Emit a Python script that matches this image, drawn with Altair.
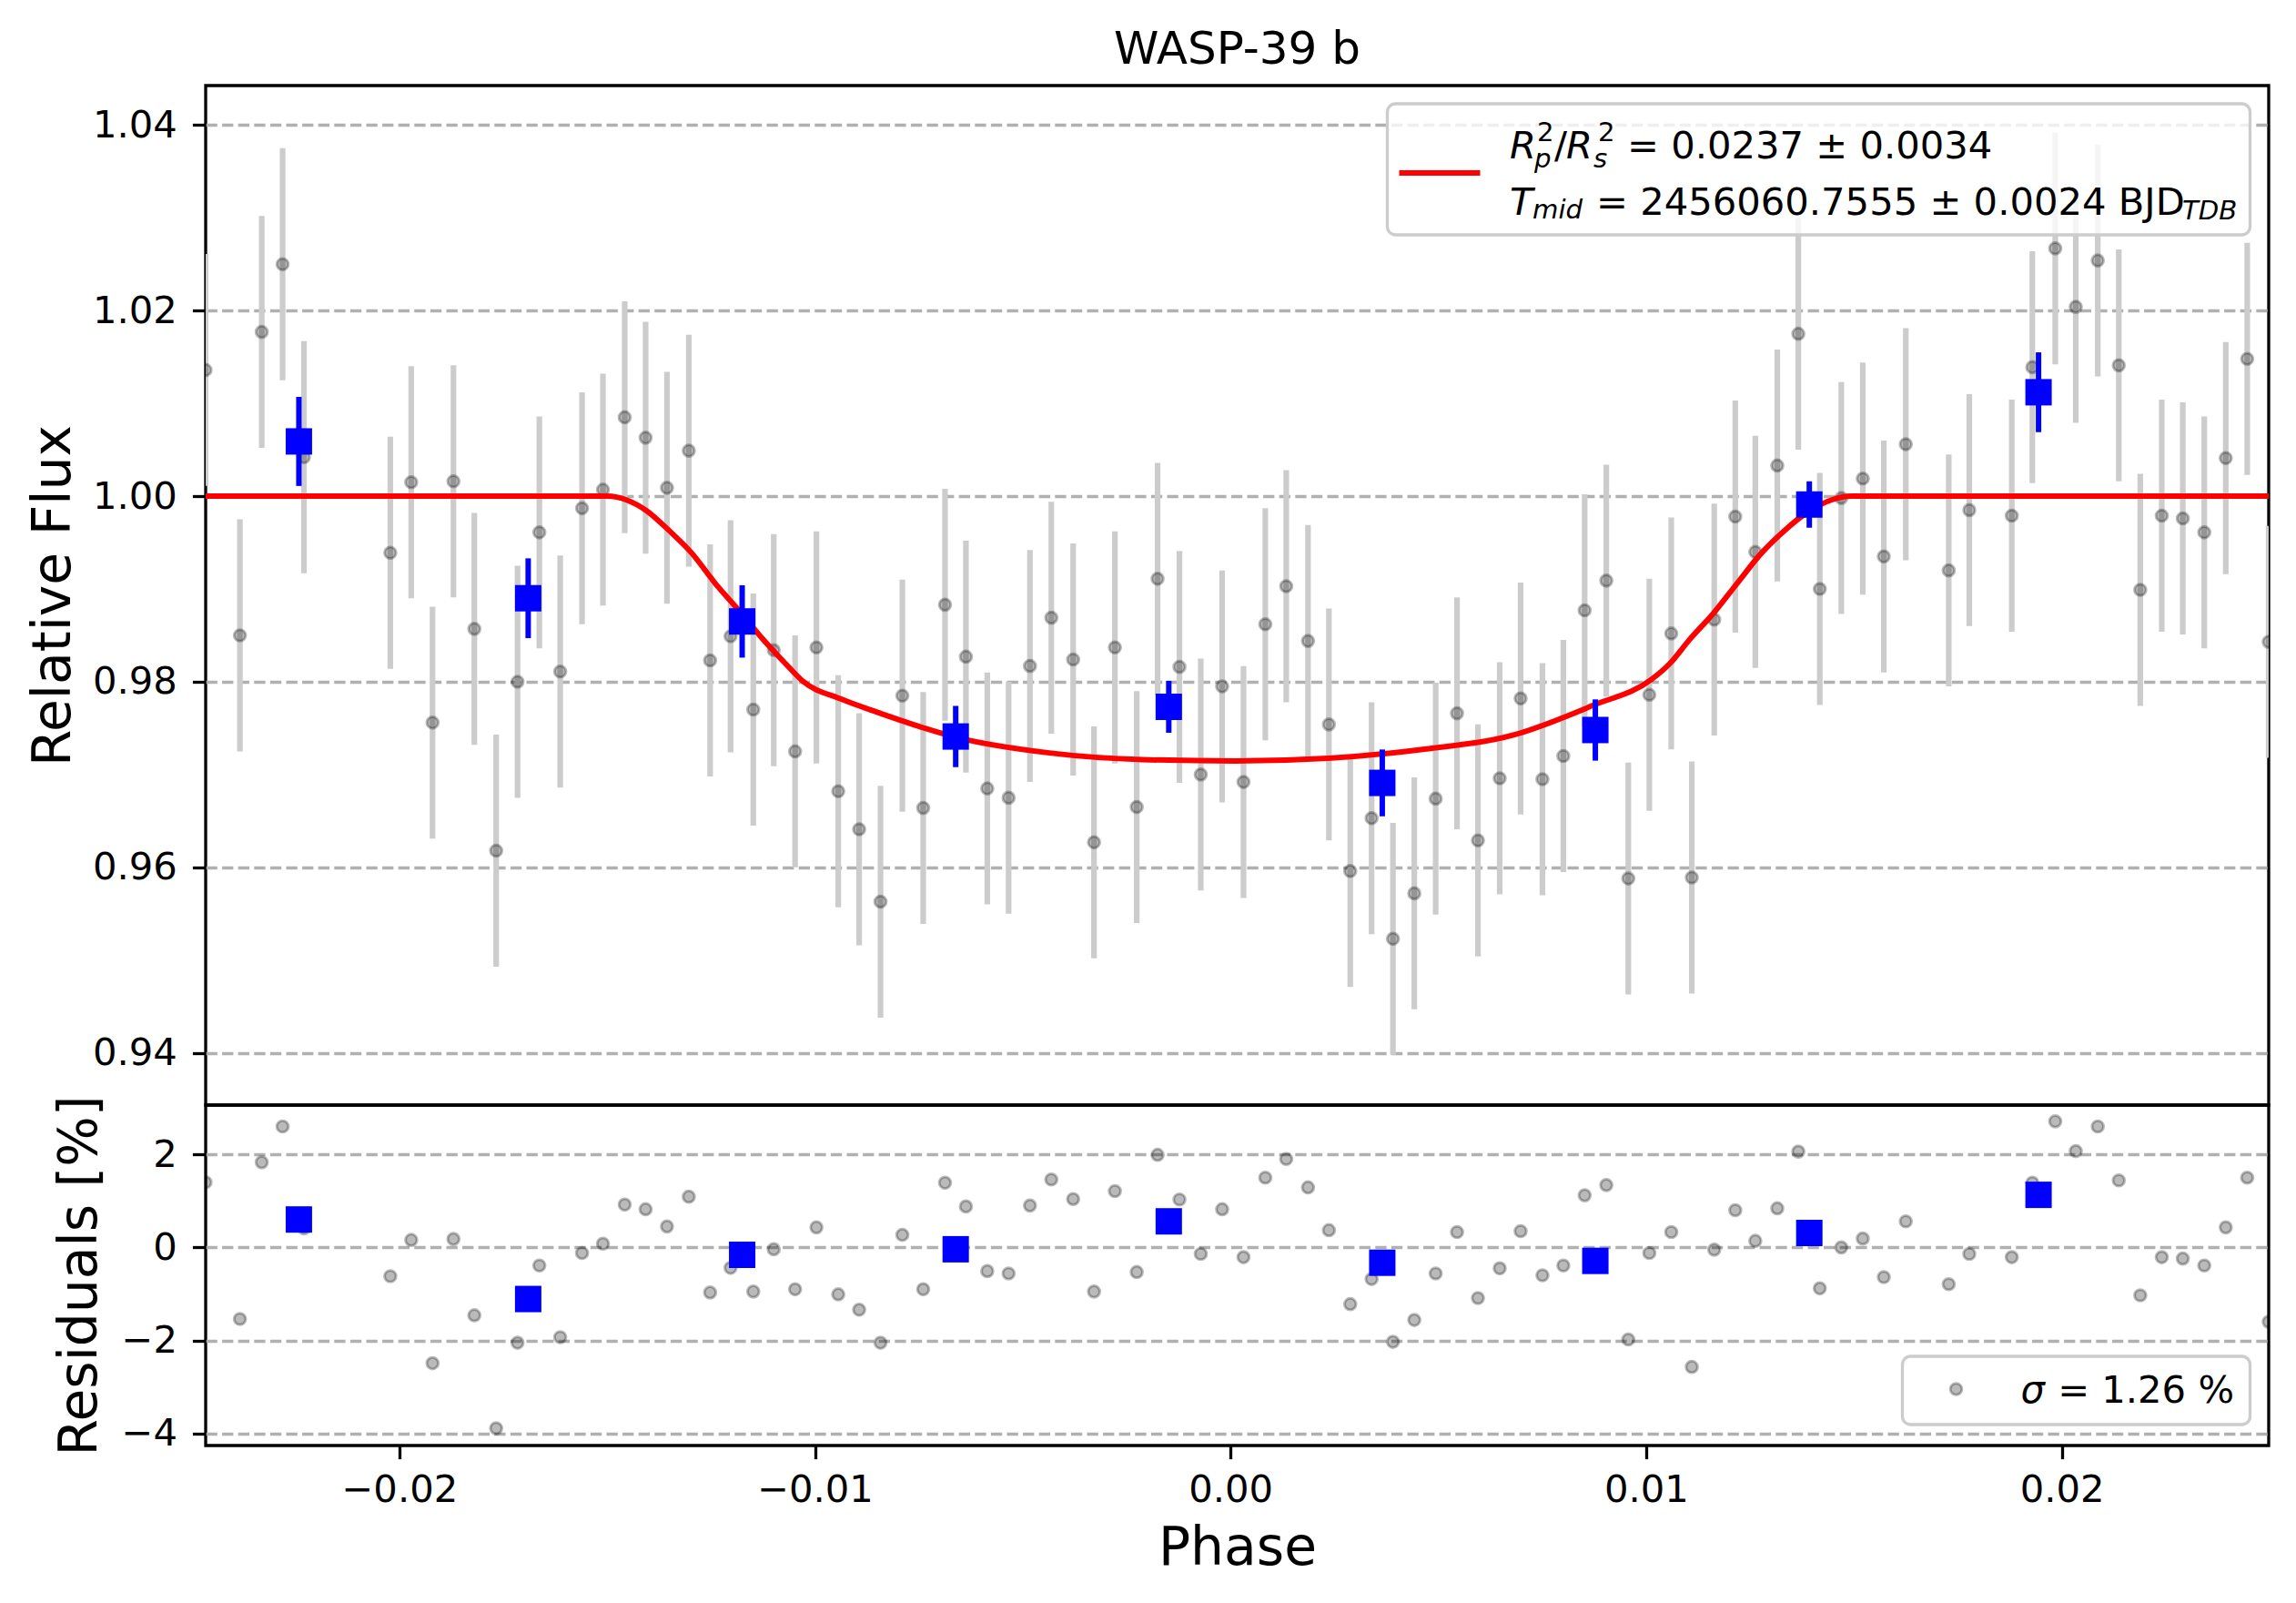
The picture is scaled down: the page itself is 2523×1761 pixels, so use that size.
import altair as alt
import pandas as pd

# ---------------- data ----------------
phase = [
    -0.024663, -0.023836, -0.023311, -0.022809, -0.022295, -0.020217, -0.019714, -0.019201, -0.018698, -0.018195,
    -0.017670, -0.017156, -0.016631, -0.016129, -0.015604, -0.015101, -0.014577, -0.014074, -0.013560, -0.013035,
    -0.012522, -0.012030, -0.011483, -0.010991, -0.010477, -0.009964, -0.009439, -0.008936, -0.008422, -0.007897,
    -0.007395, -0.006870, -0.006367, -0.005853, -0.005340, -0.004826, -0.004312, -0.003787, -0.003285, -0.002782,
    -0.002257, -0.001755, -0.001229, -0.000716, -0.000202, 0.000312, 0.000837, 0.001340, 0.001864, 0.002367,
    0.002881, 0.003394, 0.003908, 0.004422, 0.004936, 0.005450, 0.005953, 0.006477, 0.006980, 0.007505,
    0.008008, 0.008521, 0.009042, 0.009571, 0.010077, 0.010605, 0.011099, 0.011639, 0.012145, 0.012627,
    0.013156, 0.013662, 0.014179, 0.014696, 0.015213, 0.015719, 0.016248, 0.017281, 0.017776, 0.018798,
    0.019293, 0.019844, 0.020338, 0.020867, 0.021373, 0.021890, 0.022407, 0.022913, 0.023430, 0.023947,
    0.024463, 0.024980,
]
flux = [
    1.0136, 0.9850, 1.0177, 1.0250, 1.0042, 0.9939, 1.0015, 0.9756, 1.0016, 0.9857,
    0.9618, 0.9800, 0.9961, 0.9811, 0.9987, 1.0007, 1.0085, 1.0063, 1.0009, 1.0049,
    0.9823, 0.9849, 0.9770, 0.9834, 0.9725, 0.9837, 0.9682, 0.9641, 0.9563, 0.9785,
    0.9664, 0.9883, 0.9827, 0.9685, 0.9675, 0.9817, 0.9869, 0.9824, 0.9627, 0.9837,
    0.9665, 0.9911, 0.9816, 0.9700, 0.9795, 0.9692, 0.9862, 0.9903, 0.9844, 0.9754,
    0.9596, 0.9653, 0.9523, 0.9572, 0.9674, 0.9766, 0.9629, 0.9696, 0.9782, 0.9695,
    0.9720, 0.9877, 0.9909, 0.9588, 0.9786, 0.9852, 0.9589, 0.9867, 0.9978, 0.9940,
    1.0033, 1.0175, 0.9900, 0.9998, 1.0019, 0.9935, 1.0056, 0.9920, 0.9985, 0.9979,
    1.0139, 1.0267, 1.0204, 1.0254, 1.0141, 0.9899, 0.9979, 0.9976, 0.9961, 1.0041,
    1.0148, 0.9843,
]
flux_err = 0.0125  # every unbinned point has the same error bar
residual = [
    1.40, -1.54, 1.83, 2.60, 0.41, -0.62, 0.16, -2.49, 0.18, -1.46,
    -3.89, -2.05, -0.39, -1.93, -0.12, 0.08, 0.92, 0.82, 0.45, 1.09,
    -0.97, -0.44, -0.95, -0.04, -0.90, 0.43, -1.01, -1.34, -2.05, 0.27,
    -0.90, 1.39, 0.88, -0.51, -0.56, 0.90, 1.46, 1.04, -0.95, 1.21,
    -0.53, 1.99, 1.03, -0.14, 0.82, -0.21, 1.50, 1.90, 1.29, 0.37,
    -1.22, -0.68, -2.03, -1.56, -0.56, 0.33, -1.09, -0.45, 0.35, -0.60,
    -0.39, 1.12, 1.34, -1.98, -0.12, 0.33, -2.57, -0.05, 0.80, 0.14,
    0.84, 2.06, -0.88, 0.00, 0.19, -0.64, 0.56, -0.79, -0.14, -0.21,
    1.39, 2.71, 2.07, 2.60, 1.44, -1.03, -0.21, -0.24, -0.39, 0.43,
    1.50, -1.60,
]

bin_phase = [-0.022417, -0.016900, -0.011751, -0.006613, -0.001486, 0.003651, 0.008778, 0.013926, 0.019442]
bin_flux = [1.0059, 0.9890, 0.9865, 0.9741, 0.9773, 0.9691, 0.9748, 0.9991, 1.0112]
bin_err = [0.0048, 0.0043, 0.0039, 0.0033, 0.0028, 0.0036, 0.0033, 0.0025, 0.0043]
bin_residual = [0.60, -1.11, -0.16, -0.04, 0.56, -0.33, -0.29, 0.31, 1.13]

model_phase = [-0.02466, -0.01500, -0.01452, -0.01407, -0.01352, -0.01296, -0.01240, -0.01184, -0.01128,
               -0.01072, -0.01030, -0.00935, -0.00849, -0.00659, -0.00436, -0.00212, 0.00011, 0.00235,
               0.00458, 0.00681, 0.00874, 0.01012, 0.01058, 0.01104, 0.01162, 0.01219, 0.01277, 0.01334,
               0.01391, 0.01449, 0.01495, 0.02498]
model_flux = [1.0, 1.0, 0.99957, 0.99849, 0.99634, 0.99384, 0.99061, 0.98774, 0.98473,
              0.98201, 0.98010, 0.97810, 0.97670, 0.97400, 0.97233, 0.97161, 0.97147, 0.97176,
              0.97269, 0.97427, 0.97749, 0.98022, 0.98201, 0.98452, 0.98738, 0.99061, 0.99384, 0.99634,
              0.99835, 0.99964, 1.0, 1.0]

title_text = "WASP-39 b"
sigma_text = "= 1.26 %"

# ---------------- tables ----------------
pts = pd.DataFrame({"phase": phase, "flux": flux, "resid": residual})
pts["lo"] = pts["flux"] - flux_err
pts["hi"] = pts["flux"] + flux_err
bins = pd.DataFrame({"phase": bin_phase, "flux": bin_flux, "err": bin_err, "resid": bin_residual})
bins["lo"] = bins["flux"] - bins["err"]
bins["hi"] = bins["flux"] + bins["err"]
model = pd.DataFrame({"phase": model_phase, "flux": model_flux})
one = pd.DataFrame({"k": [0]})

FONT = "DejaVu Sans"
W = 2267
H_TOP = 1120
H_BOT = 374
X_DOMAIN = [-0.02466, 0.02498]

xs = alt.Scale(domain=X_DOMAIN, nice=False, zero=False)
ys_top = alt.Scale(domain=[0.93438, 1.04425], nice=False, zero=False)
ys_bot = alt.Scale(domain=[-4.26, 3.06], nice=False, zero=False)

ax_top = alt.Axis(title="Relative Flux", values=[0.94, 0.96, 0.98, 1.00, 1.02, 1.04], format=".2f",
                  titlePadding=13)
ax_bot = alt.Axis(title="Residuals [%]", values=[-4, -2, 0, 2], format="d", titlePadding=15)
ax_x = alt.Axis(title="Phase", values=[-0.02, -0.01, 0.0, 0.01, 0.02], format=".2f",
                labelPadding=14, titlePadding=14, labelFlush=False)


def xt(field="phase"):
    return alt.X(f"{field}:Q", scale=xs, axis=None)


def yt(field):
    return alt.Y(f"{field}:Q", scale=ys_top, axis=ax_top)


def xb(field="phase"):
    return alt.X(f"{field}:Q", scale=xs, axis=ax_x)


def yb(field):
    return alt.Y(f"{field}:Q", scale=ys_bot, axis=ax_bot)


point_style = dict(shape="circle", filled=True, size=160, fill="black", fillOpacity=0.27,
                   stroke="black", strokeOpacity=0.27, strokeWidth=3, clip=True)


def txt(s, x, y, size=41.7, italic=False, align="left"):
    kw = dict(text=s, font=FONT, fontSize=size, align=align, baseline="alphabetic", color="black")
    if italic:
        kw["fontStyle"] = "italic"
    return alt.Chart(one).mark_text(**kw).encode(x=alt.value(x), y=alt.value(y))


# ---------------- top panel ----------------
t_err = alt.Chart(pts).mark_rule(color="#cccccc", strokeWidth=6.2, clip=True).encode(
    x=xt(), y=yt("lo"), y2="hi:Q")
t_pts = alt.Chart(pts).mark_point(**point_style).encode(x=xt(), y=yt("flux"))
t_model = alt.Chart(model).mark_line(color="#ff0000", strokeWidth=6, interpolate="monotone",
                                     clip=True).encode(x=xt(), y=yt("flux"))
t_berr = alt.Chart(bins).mark_rule(color="#0000ff", strokeWidth=6).encode(
    x=xt(), y=yt("lo"), y2="hi:Q")
t_bins = alt.Chart(bins).mark_square(size=841, color="#0000ff", opacity=1).encode(
    x=xt(), y=yt("flux"))

leg_box = alt.Chart(one).mark_rect(fill="white", fillOpacity=0.8, stroke="#cccccc", strokeWidth=3.3,
                                   cornerRadius=9).encode(
    x=alt.value(1298.5), x2=alt.value(2246.5), y=alt.value(20), y2=alt.value(164))
leg_line = alt.Chart(one).mark_rule(color="#ff0000", strokeWidth=6).encode(
    x=alt.value(1311.5), x2=alt.value(1400.5), y=alt.value(96))

leg_texts = [
    txt("R", 1433, 80, italic=True),
    txt("p", 1460, 90, size=29.2, italic=True),
    txt("2", 1463, 61, size=29.2),
    txt("/", 1482, 80),
    txt("R", 1495, 80, italic=True),
    txt("s", 1525, 90, size=29.2, italic=True),
    txt("2", 1530, 61, size=29.2),
    txt("= 0.0237 ± 0.0034", 1562, 80),
    txt("T", 1433, 142, italic=True),
    txt("mid", 1458, 146, size=29.2, italic=True),
    txt("= 2456060.7555 ± 0.0024 BJD", 1528, 142),
    txt("TDB", 2172, 147, size=29.2, italic=True),
]

# chart title, drawn above the plot area
title_mark = alt.Chart(one).mark_text(text=title_text, font=FONT, fontSize=50, align="center",
                                      baseline="alphabetic", color="black").encode(
    x=alt.value(W / 2), y=alt.value(-24))

top = alt.layer(t_err, t_pts, t_model, t_berr, t_bins, leg_box, leg_line, *leg_texts,
                title_mark).properties(width=W, height=H_TOP)

# ---------------- residual panel ----------------
b_pts = alt.Chart(pts).mark_point(**point_style).encode(x=xb(), y=yb("resid"))
b_bins = alt.Chart(bins).mark_square(size=841, color="#0000ff", opacity=1).encode(x=xb(), y=yb("resid"))
r_box = alt.Chart(one).mark_rect(fill="white", fillOpacity=0.8, stroke="#cccccc", strokeWidth=3.3,
                                 cornerRadius=9).encode(
    x=alt.value(1864.5), x2=alt.value(2246.5), y=alt.value(276), y2=alt.value(351))
r_mark = alt.Chart(one).mark_point(shape="circle", filled=True, size=160, fill="black", fillOpacity=0.27,
                                   stroke="black", strokeOpacity=0.27, strokeWidth=3).encode(
    x=alt.value(1923.5), y=alt.value(312))
r_sig = txt("σ", 2021, 327, italic=True, align="right")
r_val = txt(sigma_text, 2229, 327, align="right")

bottom = alt.layer(b_pts, b_bins, r_box, r_mark, r_sig, r_val).properties(width=W, height=H_BOT)

chart = alt.vconcat(top, bottom, spacing=0, bounds="flush").properties(
    padding={"left": 19, "top": 20, "right": 10, "bottom": 5}
).configure_view(
    stroke="black", strokeWidth=3.3
).configure_axis(
    domain=False, tickColor="black", tickWidth=3.3, tickSize=14.6,
    labelFont=FONT, labelFontSize=41.7, labelColor="black", labelPadding=17,
    titleFont=FONT, titleFontSize=58.3, titleFontWeight="normal", titleColor="black",
    gridColor="#b0b0b0", gridDash=[12.3, 5.3], gridWidth=3.3, labelOverlap=False,
).configure_axisX(
    grid=False
).configure_axisY(
    grid=True
)

chart.save("out.html", embed_options={"renderer": "svg", "actions": False})
